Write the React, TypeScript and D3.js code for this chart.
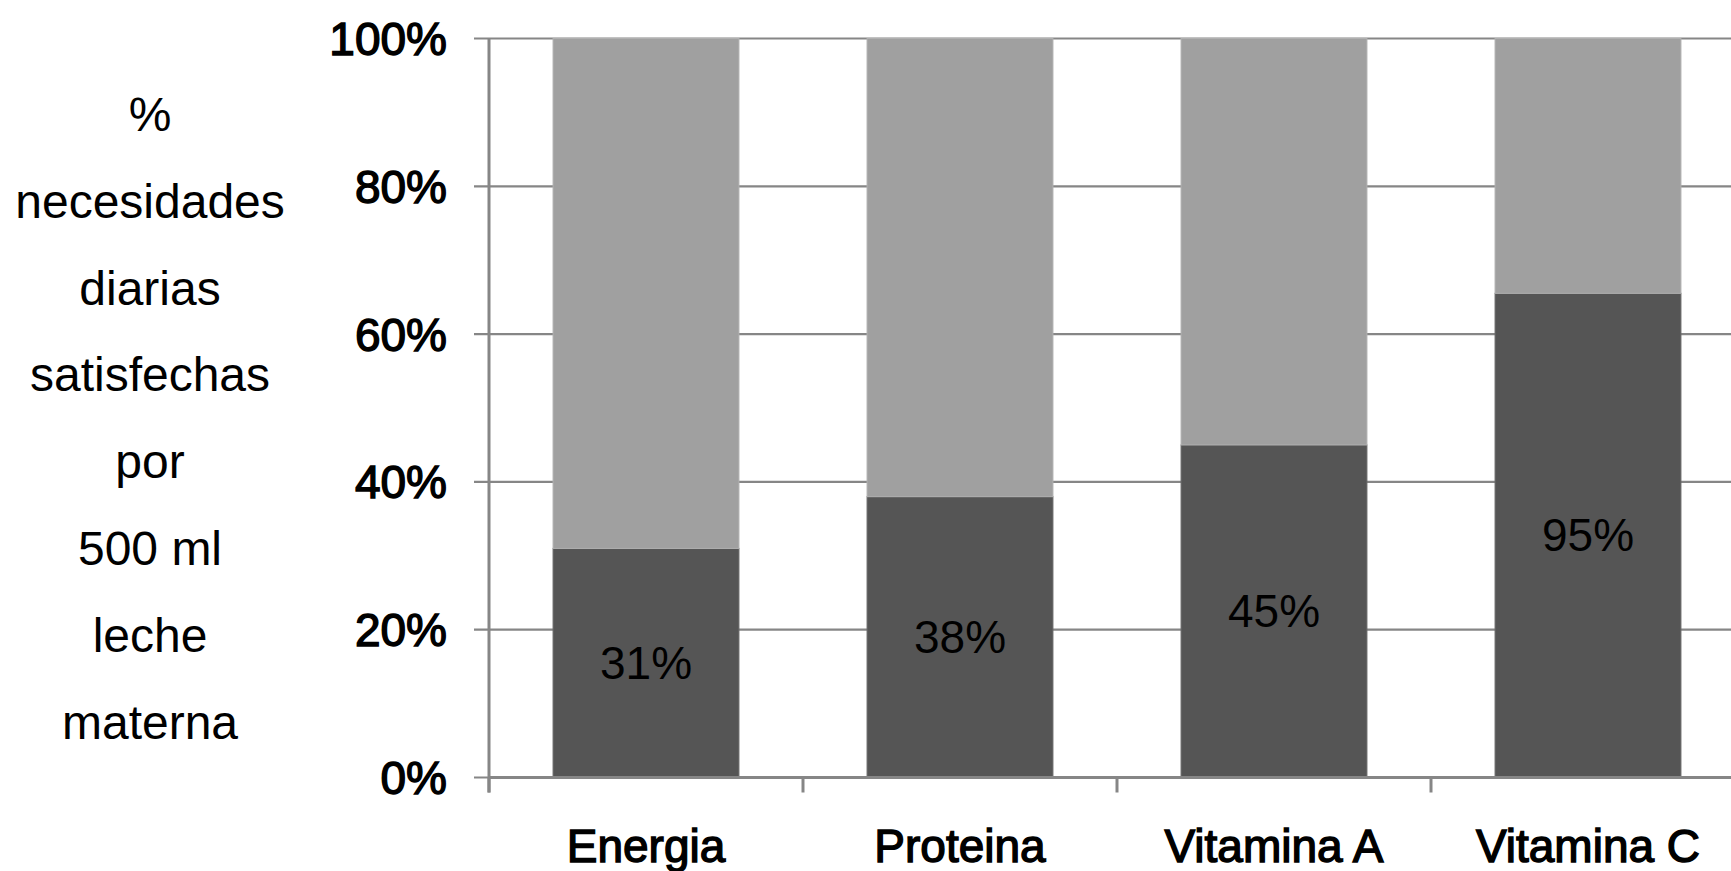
import React from "react";
import * as d3 from "d3";

// Nutrients covered by 500 ml of breast milk
const categories = ["Energia", "Proteina", "Vitamina A", "Vitamina C"];
// Share of daily needs covered (labelled series)
const covered = [31, 38, 45, 95];
// Remaining component of each stacked bar
const remainder = [69, 62, 55, 50];
const yTicks = [0, 0.2, 0.4, 0.6, 0.8, 1];
const titleLines = ["%", "necesidades", "diarias", "satisfechas", "por", "500 ml", "leche", "materna"];

const W = 1731;
const H = 871;
const FONT = "'Liberation Sans', Arial, Helvetica, sans-serif";

export default function App() {
  const left = 489;
  const right = 1745;
  const top = 38.5;
  const bottom = 777.5;

  const x = d3.scaleBand<string>().domain(categories).range([left, right]).paddingInner(0.408).paddingOuter(0.204);
  const xb = d3.scaleBand<string>().domain(categories).range([left, right]);
  const y = d3.scaleLinear().domain([0, 1]).range([bottom, top]);

  const rows = categories.map((c, i) => ({ cat: c, covered: covered[i], remainder: remainder[i] }));
  const stack = d3.stack<any>().keys(["covered", "remainder"]).offset(d3.stackOffsetExpand);
  const series = stack(rows);
  const colors: Record<string, string> = { covered: "#555555", remainder: "#a0a0a0" };

  const gridColor = "#868686";
  // medium-weight look for axis labels: regular face with a thin outline
  const heavy = { stroke: "#000", strokeWidth: 1.4, paintOrder: "stroke" as const };

  return (
    <svg width={W} height={H} style={{ position: "absolute", left: 0, top: 0, background: "#fff" }}>
      {/* axis title, one word per line */}
      {titleLines.map((t, i) => (
        <text key={t} x={150} y={131 + i * 86.8} textAnchor="middle" fontFamily={FONT} fontSize={48} fill="#000">
          {t}
        </text>
      ))}

      {/* horizontal gridlines with tick stubs */}
      {yTicks.map((v) => (
        <g key={v}>
          <line x1={474} x2={W} y1={y(v)} y2={y(v)} stroke={gridColor} strokeWidth={2.2} />
          <text x={447} y={y(v) + 16.5} textAnchor="end" fontFamily={FONT} fontSize={46} fill="#000" {...heavy}>
            {d3.format(".0%")(v)}
          </text>
        </g>
      ))}

      {/* stacked bars */}
      {series.map((s) => (
        <g key={s.key}>
          {s.map((d, i) => (
            <rect
              key={categories[i]}
              x={x(categories[i])}
              width={x.bandwidth()}
              y={y(d[1])}
              height={y(d[0]) - y(d[1])}
              fill={colors[s.key]}
              stroke={s.key === "covered" ? "#6a6a6a" : "#b0b0b0"}
              strokeWidth={1}
            />
          ))}
        </g>
      ))}

      {/* value labels centred in the covered segment */}
      {series[0].map((d, i) => (
        <text
          key={categories[i]}
          x={(x(categories[i]) as number) + x.bandwidth() / 2}
          y={y((d[0] + d[1]) / 2) + 16}
          textAnchor="middle"
          fontFamily={FONT}
          fontSize={46}
          fill="#000"
        >
          {covered[i]}%
        </text>
      ))}

      {/* axes */}
      <line x1={left} x2={left} y1={top} y2={bottom + 15} stroke={gridColor} strokeWidth={3} />
      <line x1={left} x2={W} y1={bottom} y2={bottom} stroke={gridColor} strokeWidth={3} />
      {categories.map((c) => (
        <line key={c} x1={xb(c)} x2={xb(c)} y1={bottom} y2={bottom + 15} stroke={gridColor} strokeWidth={3} />
      ))}

      {/* category labels */}
      {categories.map((c) => (
        <text
          key={c}
          x={(x(c) as number) + x.bandwidth() / 2}
          y={862}
          textAnchor="middle"
          fontFamily={FONT}
          fontSize={46}
          fill="#000"
          {...heavy}
        >
          {c}
        </text>
      ))}
    </svg>
  );
}
